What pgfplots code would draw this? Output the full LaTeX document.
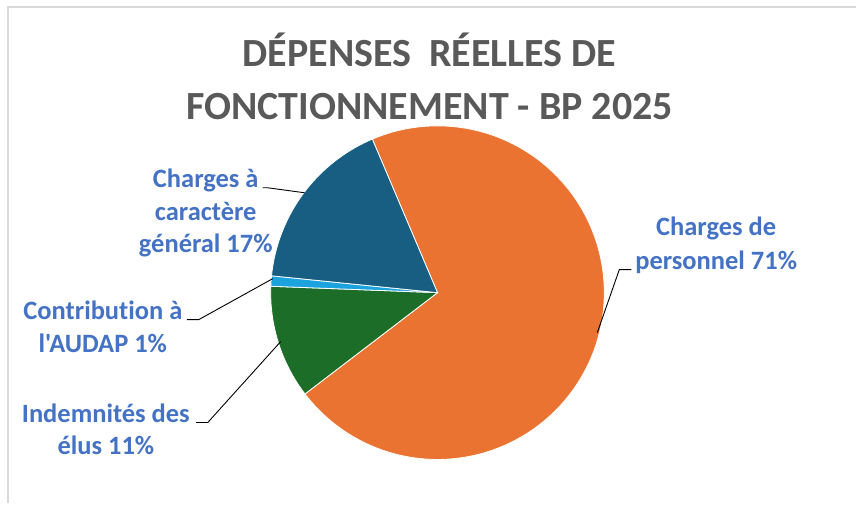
\documentclass[border=0pt]{standalone}
\usepackage{fontspec}
\setmainfont{Carlito}
\newfontfamily\cf{Carlito}[Ligatures=NoCommon]
\usepackage{pgfplots}
\pgfplotsset{compat=1.18}
\definecolor{cOrange}{HTML}{EA7332}
\definecolor{cGreen}{HTML}{1C6D27}
\definecolor{cLight}{HTML}{1BA3DD}
\definecolor{cDark}{HTML}{175E82}
\definecolor{cLabel}{HTML}{4472C4}
\definecolor{cTitle}{HTML}{595959}
\definecolor{cFrame}{HTML}{D9D9D9}
% shares (percent)
\def\vA{71}% Charges de personnel
\def\vB{11}% Indemnites des elus
\def\vC{1}%  Contribution AUDAP
\def\vD{17}% Charges a caractere general
\begin{document}
\begin{tikzpicture}
\pgfmathsetmacro\aA{113}
\pgfmathsetmacro\aB{\aA-3.6*\vA}
\pgfmathsetmacro\aC{\aB-3.6*\vB}
\pgfmathsetmacro\aD{\aC-3.6*\vC}
\pgfmathsetmacro\aE{\aD-3.6*\vD}
\begin{axis}[
  width=857pt, height=504pt, scale only axis,
  xmin=0, xmax=857, ymin=0, ymax=504, y dir=reverse,
  hide axis, clip=false,
]
\fill[white] (axis cs:0,0) rectangle (axis cs:857,504);
\draw[cFrame, line width=2pt] (axis cs:8,504) -- (axis cs:8,7) -- (axis cs:857,7);
% slices
\addplot[fill=cOrange, draw=white, line width=0.8pt, domain=\aA:\aB, samples=150, variable=\t]
  ({438+167*cos(t)}, {293-167*sin(t)}) -- (axis cs:438,293) -- cycle;
\addplot[fill=cGreen, draw=white, line width=0.8pt, domain=\aB:\aC, samples=40, variable=\t]
  ({438+167*cos(t)}, {293-167*sin(t)}) -- (axis cs:438,293) -- cycle;
\addplot[fill=cLight, draw=white, line width=0.8pt, domain=\aC:\aD, samples=10, variable=\t]
  ({438+167*cos(t)}, {293-167*sin(t)}) -- (axis cs:438,293) -- cycle;
\addplot[fill=cDark, draw=white, line width=0.8pt, domain=\aD:\aE, samples=60, variable=\t]
  ({438+167*cos(t)}, {293-167*sin(t)}) -- (axis cs:438,293) -- cycle;
% leader lines
\addplot[black, line width=0.9pt] coordinates {(598,333) (620,270) (632,270)};
\addplot[black, line width=0.9pt] coordinates {(263,188) (268,188) (305,193)};
\addplot[black, line width=0.9pt] coordinates {(187,320) (199,320) (273,279)};
\addplot[black, line width=0.9pt] coordinates {(196,423) (208,423) (281,342)};
% title
\begin{scope}[every node/.style={anchor=base, text=cTitle, font=\cf\fontsize{40}{48}\selectfont\bfseries}]
\node at (axis cs:430,67) {DÉPENSES\ \ RÉELLES DE};
\node at (axis cs:430,120) {FONCTIONNEMENT - BP 2025};
\end{scope}
% labels
\begin{scope}[every node/.style={anchor=base, text=cLabel, font=\cf\fontsize{26.5}{31}\selectfont\bfseries}]
\node at (axis cs:717,236) {Charges de};
\node at (axis cs:717,270) {personnel 71\%};
\node at (axis cs:206,188) {Charges à};
\node at (axis cs:206,221) {caractère};
\node at (axis cs:206,253) {général 17\%};
\node at (axis cs:103,320) {Contribution à};
\node at (axis cs:103,353) {l'AUDAP 1\%};
\node at (axis cs:106,423) {Indemnités des};
\node at (axis cs:106,455) {élus 11\%};
\end{scope}
\end{axis}
\end{tikzpicture}
\end{document}
